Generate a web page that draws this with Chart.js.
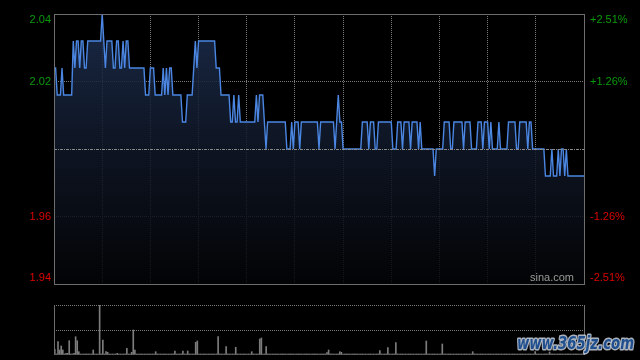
<!DOCTYPE html>
<html>
<head>
<meta charset="utf-8">
<script src="https://cdn.jsdelivr.net/npm/chart.js@4.4.1/dist/chart.umd.min.js"></script>
<style>
  html, body { margin: 0; padding: 0; background: #000; }
  #wrap { position: relative; width: 640px; height: 360px; overflow: hidden; background: #000; }
  #priceChart { position: absolute; left: 0; top: 0; }
  #volChart { position: absolute; left: 0; top: 290px; }
</style>
</head>
<body>
<div id="wrap">
  <canvas id="priceChart" width="640" height="290"></canvas>
  <canvas id="volChart" width="640" height="70"></canvas>
</div>
<script>
// intraday minute data, 09:30 -> 16:00 (331 points)
const prevClose = 1.99;
const yTicks = [1.94, 1.965, 1.99, 2.015, 2.04];
const priceLabels = ['1.94', '1.96', '', '2.02', '2.04'];
const pctLabels = ['-2.51%', '-1.26%', '', '+1.26%', '+2.51%'];
const volTicks = [0, 250, 500];

const prices = [
  2.02,2.02,2.01,2.01,2.01,2.02,2.01,2.01,2.01,2.01,2.01,2.01,2.03,2.02,2.03,2.03,2.02,2.03,2.03,2.02,2.02,2.03,2.03,2.03,2.03,2.03,2.03,2.03,2.03,2.03,
  2.04,2.03,2.02,2.03,2.03,2.03,2.03,2.02,2.02,2.03,2.03,2.02,2.02,2.03,2.02,2.03,2.03,2.02,2.02,2.02,2.02,2.02,2.02,2.02,2.02,2.02,2.02,2.01,2.01,2.01,
  2.02,2.02,2.02,2.01,2.01,2.01,2.01,2.01,2.02,2.01,2.02,2.01,2.02,2.02,2.01,2.01,2.01,2.01,2.01,2.01,2.00,2.00,2.00,2.01,2.01,2.01,2.01,2.02,2.03,2.02,
  2.03,2.03,2.03,2.03,2.03,2.03,2.03,2.03,2.03,2.03,2.03,2.02,2.02,2.02,2.01,2.01,2.01,2.01,2.01,2.01,2.00,2.00,2.01,2.00,2.00,2.01,2.00,2.00,2.00,2.00,
  2.00,2.00,2.00,2.00,2.00,2.00,2.01,2.00,2.01,2.01,2.01,2.00,1.99,2.00,2.00,2.00,2.00,2.00,2.00,2.00,2.00,2.00,2.00,2.00,2.00,1.99,1.99,1.99,2.00,1.99,
  2.00,2.00,2.00,1.99,2.00,2.00,2.00,2.00,2.00,2.00,2.00,2.00,2.00,2.00,2.00,1.99,2.00,2.00,2.00,2.00,2.00,2.00,2.00,2.00,2.00,1.99,2.00,2.01,2.00,2.00,
  1.99,1.99,1.99,1.99,1.99,1.99,1.99,1.99,1.99,1.99,1.99,1.99,2.00,2.00,2.00,2.00,1.99,2.00,2.00,2.00,1.99,1.99,2.00,2.00,2.00,2.00,2.00,2.00,2.00,2.00,
  2.00,1.99,1.99,1.99,2.00,2.00,2.00,1.99,2.00,2.00,2.00,2.00,1.99,2.00,2.00,2.00,2.00,1.99,2.00,1.99,1.99,1.99,1.99,1.99,1.99,1.99,1.99,1.98,1.99,1.99,
  1.99,1.99,1.99,2.00,2.00,2.00,2.00,1.99,1.99,2.00,2.00,2.00,2.00,2.00,2.00,1.99,2.00,2.00,2.00,2.00,1.99,1.99,1.99,1.99,2.00,2.00,2.00,1.99,2.00,2.00,
  2.00,1.99,2.00,1.99,1.99,1.99,1.99,2.00,1.99,1.99,1.99,1.99,1.99,2.00,2.00,2.00,2.00,2.00,1.99,1.99,2.00,2.00,2.00,2.00,2.00,1.99,2.00,2.00,1.99,1.99,
  1.99,1.99,1.99,1.99,1.99,1.99,1.98,1.98,1.98,1.98,1.99,1.98,1.98,1.98,1.99,1.98,1.99,1.99,1.98,1.99,1.98,1.98,1.98,1.98,1.98,1.98,1.98,1.98,1.98,1.98,1.98
];

const volumes = [
  57,10,133,50,90,50,10,17,17,143,10,10,17,183,143,33,10,10,10,10,10,10,10,10,50,10,10,10,500,10,
  150,10,33,27,10,10,10,10,10,17,10,10,10,10,10,67,10,10,27,250,50,10,10,10,10,10,10,10,10,10,
  10,10,10,33,10,10,10,10,10,10,10,10,10,10,10,40,10,10,10,10,40,10,10,40,10,10,10,10,127,140,
  10,10,10,10,10,10,10,10,10,10,10,10,183,10,10,10,10,83,10,10,10,10,10,77,10,10,10,10,10,10,
  10,10,10,33,10,10,10,10,160,170,10,10,83,10,10,10,10,10,10,10,10,10,10,10,10,10,10,10,10,10,
  10,10,10,10,10,10,10,10,10,10,10,10,10,10,10,10,10,10,10,10,23,50,10,10,10,10,10,10,33,27,
  10,10,10,10,10,10,10,10,10,10,10,10,10,10,10,10,10,10,10,10,10,10,10,43,10,10,10,10,73,10,
  10,10,10,123,10,10,10,10,10,10,10,10,10,10,10,10,10,10,10,10,10,10,140,10,10,10,10,10,10,10,
  10,10,110,10,10,10,10,10,10,10,10,10,10,10,10,10,10,10,10,10,10,33,10,10,10,10,10,10,10,10,
  10,10,10,10,10,10,10,10,10,10,10,10,10,10,10,10,10,10,10,10,10,10,10,10,10,10,10,10,10,10,
  33,10,10,10,10,10,10,10,10,30,10,10,10,10,10,10,10,10,10,10,10,10,10,10,10,10,10,10,10,10,10
];

Chart.defaults.font.family = 'Arial, "Liberation Sans", sans-serif';
Chart.defaults.animation = false;

const FRAME = '#6e6e6e';
const GRID = '#7a7a7a';

// frame, centre line, side labels
const pricePlugin = {
  id: 'pricePlugin',
  afterDatasetsDraw(chart) {
    const { ctx, chartArea: a, scales: { y } } = chart;
    const py = Math.round(y.getPixelForValue(prevClose)) + 0.5;
    ctx.save();
    ctx.strokeStyle = '#8a8a8a';
    ctx.lineWidth = 1;
    ctx.setLineDash([3, 1, 1, 1]);
    ctx.beginPath();
    ctx.moveTo(a.left, py);
    ctx.lineTo(a.right, py);
    ctx.stroke();
    ctx.restore();
  },
  afterDraw(chart) {
    const { ctx, chartArea: a, scales: { y } } = chart;
    ctx.save();
    ctx.strokeStyle = FRAME;
    ctx.lineWidth = 1;
    ctx.strokeRect(a.left + 0.5, a.top + 0.5, a.right - a.left, a.bottom - a.top);

    ctx.font = '11px Arial, "Liberation Sans", sans-serif';
    ctx.textBaseline = 'middle';
    yTicks.forEach((v, i) => {
      if (!priceLabels[i]) return;
      const py = Math.min(Math.max(y.getPixelForValue(v), a.top + 6), a.bottom - 6);
      ctx.fillStyle = v > prevClose ? '#0b9a0b' : '#dd0000';
      ctx.textAlign = 'right';
      ctx.fillText(priceLabels[i], a.left - 3, py);
      ctx.textAlign = 'left';
      ctx.fillText(pctLabels[i], a.right + 6, py);
    });

    ctx.fillStyle = '#9a9a9a';
    ctx.textAlign = 'right';
    ctx.fillText('sina.com', a.right - 10, a.bottom - 6);
    ctx.restore();
  }
};

new Chart(document.getElementById('priceChart'), {
  type: 'line',
  data: {
    datasets: [{
      data: prices.map((p, i) => ({ x: i, y: p })),
      borderColor: '#4a86e2',
      borderWidth: 1.4,
      pointRadius: 0,
      tension: 0,
      fill: 'start',
      backgroundColor: (c) => {
        const a = c.chart.chartArea;
        if (!a) return 'rgba(20,32,55,0.8)';
        const g = c.chart.ctx.createLinearGradient(0, a.top, 0, a.bottom);
        g.addColorStop(0, 'rgba(30,48,82,0.85)');
        g.addColorStop(0.5, 'rgba(16,24,40,0.85)');
        g.addColorStop(1, 'rgba(3,4,6,0.85)');
        return g;
      }
    }]
  },
  options: {
    responsive: false,
    devicePixelRatio: 1,
    layout: { padding: { left: 54, right: 56, top: 14, bottom: 6 } },
    plugins: { legend: { display: false }, tooltip: { enabled: false } },
    scales: {
      x: {
        type: 'linear', min: 0, max: 330,
        ticks: { display: false, stepSize: 30 },
        grid: { color: GRID, drawTicks: false },
        border: { display: false, dash: [1, 1] }
      },
      y: {
        min: 1.94, max: 2.04,
        afterBuildTicks: (ax) => { ax.ticks = yTicks.map(v => ({ value: v })); },
        ticks: { display: false },
        grid: {
          drawTicks: false,
          color: (c) => (c.tick && c.tick.value === prevClose) ? 'rgba(0,0,0,0)' : GRID
        },
        border: { display: false, dash: [1, 1] }
      }
    }
  },
  plugins: [pricePlugin]
});

// volume panel
const volPlugin = {
  id: 'volPlugin',
  afterDraw(chart) {
    const { ctx, chartArea: a } = chart;
    ctx.save();
    ctx.strokeStyle = FRAME;
    ctx.lineWidth = 1;
    ctx.beginPath();
    ctx.moveTo(a.left + 0.5, a.top);
    ctx.lineTo(a.left + 0.5, a.bottom);
    ctx.moveTo(a.right + 0.5, a.top);
    ctx.lineTo(a.right + 0.5, a.bottom);
    ctx.stroke();

    // watermark
    const txt = 'www.365jz.com';
    ctx.font = 'bold italic 17px "DejaVu Sans", sans-serif';
    ctx.textAlign = 'left';
    ctx.textBaseline = 'middle';
    ctx.lineJoin = 'round';
    ctx.lineWidth = 3;
    ctx.strokeStyle = 'rgba(200,208,220,0.85)';
    ctx.strokeText(txt, 517, 55, 117);
    ctx.fillStyle = '#1f4f8f';
    ctx.fillText(txt, 517, 55, 117);
    ctx.restore();
  }
};

new Chart(document.getElementById('volChart'), {
  type: 'bar',
  data: {
    datasets: [{
      data: volumes.map((v, i) => ({ x: i, y: v })),
      backgroundColor: '#7c7c7c',
      borderWidth: 0,
      barThickness: 1
    }]
  },
  options: {
    responsive: false,
    devicePixelRatio: 1,
    layout: { padding: { left: 54, right: 56, top: 15, bottom: 5 } },
    plugins: { legend: { display: false }, tooltip: { enabled: false } },
    scales: {
      x: {
        type: 'linear', min: -0.5, max: 330.5, offset: false,
        ticks: { display: false },
        grid: { display: false, drawTicks: false, offset: false },
        border: { display: false }
      },
      y: {
        min: 0, max: 500,
        afterBuildTicks: (ax) => { ax.ticks = volTicks.map(v => ({ value: v })); },
        ticks: { display: false },
        grid: {
          drawTicks: false,
          color: (c) => (c.tick && c.tick.value === 0) ? 'rgba(0,0,0,0)' : GRID
        },
        border: { display: false, dash: [1, 1] }
      }
    }
  },
  plugins: [volPlugin]
});
</script>
</body>
</html>
